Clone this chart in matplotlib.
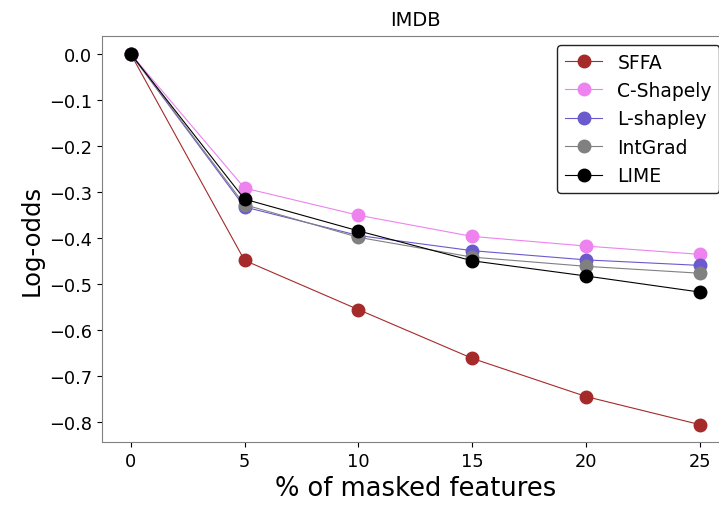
import matplotlib
matplotlib.use("Agg")
from matplotlib import pyplot as plt

masked = [0, 5, 10, 15, 20, 25]

sffa = [0.0, -0.449, -0.556, -0.662, -0.745, -0.806]
c_shapely = [0.0, -0.292, -0.351, -0.397, -0.418, -0.436]
l_shapley = [0.0, -0.333, -0.395, -0.428, -0.448, -0.460]
intgrad = [0.0, -0.328, -0.399, -0.442, -0.462, -0.477]
lime = [0.0, -0.316, -0.385, -0.450, -0.483, -0.518]

methods = ["SFFA", "C-Shapely", "L-shapley", "IntGrad", "LIME"]
colors = ["brown", "violet", "slateblue", "gray", "black"]
series = [sffa, c_shapely, l_shapley, intgrad, lime]

fig, ax = plt.subplots(figsize=(7.19, 5.10), dpi=100)
fig.subplots_adjust(left=0.142, right=1.0135, top=0.928, bottom=0.131)

for name, col, vals in zip(methods, colors, series):
    ax.plot(masked, vals, "-o", color=col, label=name, linewidth=0.8, markersize=9)

ax.set_title("IMDB", fontsize=14, pad=8)
ax.set_xlabel("% of masked features", fontsize=18.5)
ax.set_ylabel("Log-odds", fontsize=17.5)
ax.tick_params(labelsize=12.8)
ax.set_xticks(masked)
ax.set_ylim(-0.844, 0.039)
ax.set_xlim(-1.25, 26.25)
for s in ax.spines.values():
    s.set_color("gray")

leg = ax.legend(fontsize=13.5, loc="upper right", framealpha=1, fancybox=True)
leg.get_frame().set_edgecolor("#222222")

plt.savefig("out.png")
